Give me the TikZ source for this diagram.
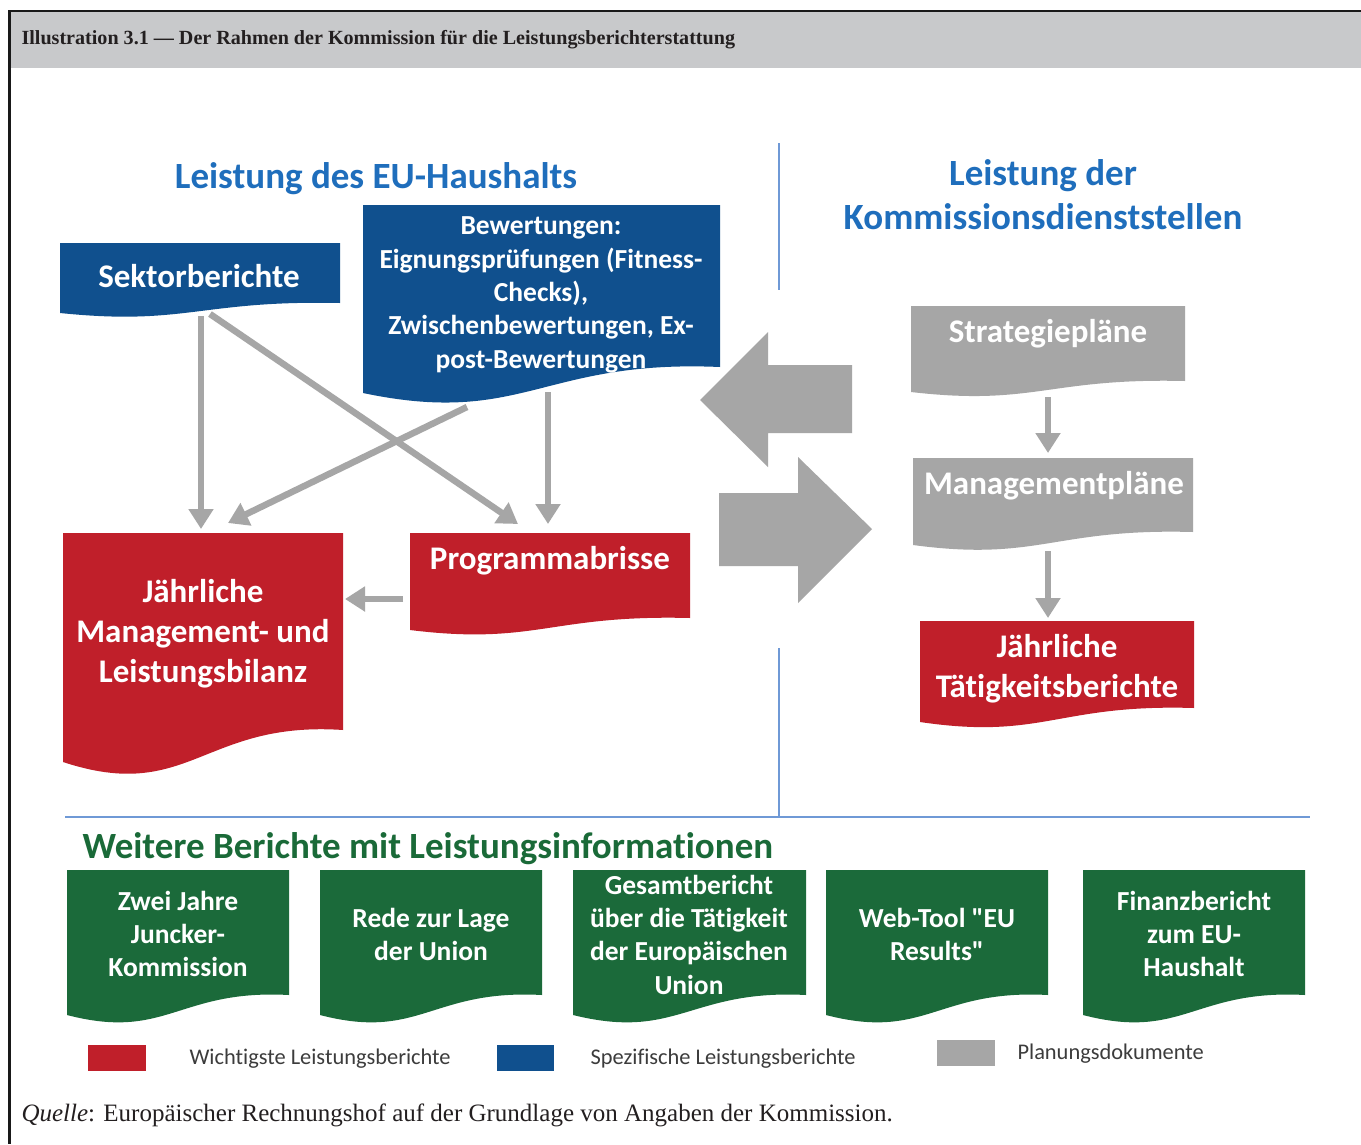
\documentclass[tikz,border=0pt]{standalone}
\usepackage{fontspec}
\setmainfont{Liberation Serif}
\newfontfamily\calfont[Ligatures=NoCommon]{Carlito}
\usetikzlibrary{arrows.meta,calc}
\definecolor{hdrgray}{RGB}{200,201,203}
\definecolor{boxblue}{RGB}{16,80,142}
\definecolor{boxred}{RGB}{192,31,42}
\definecolor{boxgray}{RGB}{166,166,166}
\definecolor{boxgreen}{RGB}{27,106,58}
\definecolor{headblue}{RGB}{31,110,188}
\definecolor{headgreen}{RGB}{26,106,56}
\definecolor{divblue}{RGB}{111,153,214}
\definecolor{legtext}{RGB}{60,60,60}
\definecolor{txtdark}{RGB}{35,31,32}
\newcommand\docbox[7]{%
  \node[inner sep=0pt, outer sep=0pt, minimum width={(#5-#3)*1pt}, minimum height={(#6-#4)*1pt}, anchor=north west] (#1) at (#3,#4) {};
  \fill[#2] (#3,#4) -- (#5,#4) -- (#5,#6) .. controls ({#3+0.5*(#5-#3)},{#6-0.3*(#7-#6)}) and ({#3+0.45*(#5-#3)},{#7+1.3*(#7-#6)}) .. (#3,#7) -- cycle;
}
\tikzset{
  conn/.style={draw=boxgray, line width=6.5pt, -{Triangle[length=20pt,width=24pt]}},
  bigtxt/.style={text=white, align=center, font=\calfont\bfseries\fontsize{33}{40}\selectfont},
  midtxt/.style={text=white, align=center, font=\calfont\bfseries\fontsize{27.5}{33.3}\selectfont},
  heading/.style={text=headblue, align=center, font=\calfont\bfseries\fontsize{37}{44}\selectfont},
  legtxt/.style={text=legtext, anchor=west, font=\calfont\fontsize{22.4}{26}\selectfont},
  divider/.style={draw=divblue, line width=1.8pt}
}
\begin{document}
\begin{tikzpicture}[x=1pt,y=-1pt]
\useasboundingbox (0,0) rectangle (1361,1144);
\fill[white] (0,0) rectangle (1361,1144);
% header
\fill[hdrgray] (10,12) rectangle (1361,68);
\draw[black!90, line width=2.5pt] (8,11) -- (1361,11);
\draw[black!90, line width=2.5pt] (9.5,10) -- (9.5,1144);
\node[anchor=west, text=txtdark, font=\bfseries\fontsize{20.1}{24}\selectfont] (title) at (18,40) {Illustration 3.1 --- Der Rahmen der Kommission für die Leistungsberichterstattung};
% dividers
\draw[divider] (779,143) -- (779,290);
\draw[divider] (779,648) -- (779,816);
\draw[divider] (65,817) -- (1310,817);
% headings
\node[heading] (h1) at (376,179) {Leistung des EU-Haushalts};
\node[heading] (h2) at (1043,195) {Leistung der\\Kommissionsdienststellen};
% boxes
\docbox{sek}{boxblue}{60}{243}{340}{303}{313}
\docbox{bew}{boxblue}{363}{205}{720}{367}{393}
\docbox{prog}{boxred}{410}{533}{690}{618}{630}
\docbox{jml}{boxred}{63}{533}{343}{730}{762}
\docbox{str}{boxgray}{911}{306}{1185}{381}{392}
\docbox{mgmt}{boxgray}{913}{458}{1193}{532}{545}
\docbox{tat}{boxred}{920}{621}{1194}{708}{722}
\docbox{g1}{boxgreen}{67}{870}{289}{995}{1015}
\docbox{g2}{boxgreen}{320}{870}{542}{995}{1015}
\docbox{g3}{boxgreen}{573}{870}{806}{995}{1015}
\docbox{g4}{boxgreen}{826}{870}{1048}{995}{1015}
\docbox{g5}{boxgreen}{1083}{870}{1305}{995}{1015}
% box texts
\node[bigtxt] (sektxt) at (199,276) {Sektorberichte};
\node[midtxt] (bewtxt) at (541,295) {Bewertungen:\\Eignungsprüfungen (Fitness-\\Checks),\\Zwischenbewertungen, Ex-\\post-Bewertungen};
\node[bigtxt] (progtxt) at (550,561) {Programmabrisse};
\node[bigtxt] (jmltxt) at (203,634) {Jährliche\\Management- und\\Leistungsbilanz};
\node[bigtxt] (strtxt) at (1048,334) {Strategiepläne};
\node[bigtxt] (mgmttxt) at (1054,486) {Managementpläne};
\node[bigtxt] (tattxt) at (1057,669) {Jährliche\\Tätigkeitsberichte};
% connectors
\draw[conn] ($(sek.south west)+(141,13)$) -- ($(jml.north west)+(138,-4)$);
\draw[conn] ($(sek.south west)+(150,11)$) -- ($(prog.north west)+(108,-9)$);
\draw[conn] ($(bew.south west)+(104,40)$) -- ($(jml.north west)+(165,-10)$);
\draw[conn] ($(bew.south west)+(185,25)$) -- ($(prog.north west)+(138,-9)$);
\draw[conn] ($(prog.north west)+(-7,66)$) -- ($(jml.north east)+(2,66)$);
\draw[conn] ($(str.south west)+(137,16)$) -- ($(mgmt.north west)+(135,-5)$);
\draw[conn] ($(mgmt.south west)+(135,19)$) -- ($(tat.north west)+(128,-3)$);
% big arrows
\fill[boxgray] (852,365) -- (768,365) -- (768,332) -- (700,400) -- (768,467) -- (768,433) -- (852,433) -- cycle;
\fill[boxgray] (719,493) -- (798,493) -- (798,457) -- (872,529) -- (798,603) -- (798,566) -- (719,566) -- cycle;
% further reports
\node[heading, text=headgreen, anchor=west] (h3) at (79,849) {Weitere Berichte mit Leistungsinformationen};
\node[midtxt] (g1txt) at (178,934) {Zwei Jahre\\Juncker-\\Kommission};
\node[midtxt] (g2txt) at (431,934.5) {Rede zur Lage\\der Union};
\node[midtxt] (g3txt) at (689,934.5) {Gesamtbericht\\über die Tätigkeit\\der Europäischen\\Union};
\node[midtxt] (g4txt) at (937,934.5) {Web-Tool "EU\\Results"};
\node[midtxt] (g5txt) at (1194,934) {Finanzbericht\\zum EU-\\Haushalt};
% legend
\fill[boxred] (88,1045) rectangle (146,1071);
\node[legtxt] (l1) at (186,1059) {Wichtigste Leistungsberichte};
\fill[boxblue] (497,1045) rectangle (554,1071);
\node[legtxt] (l2) at (587,1059) {Spezifische Leistungsberichte};
\fill[boxgray] (937,1040) rectangle (995,1066);
\node[legtxt] (l3) at (1014,1054) {Planungsdokumente};
% source
\node[anchor=west, text=txtdark, font=\fontsize{25}{29}\selectfont] (src) at (18,1115) {\textit{Quelle}: Europäischer Rechnungshof auf der Grundlage von Angaben der Kommission.};
\end{tikzpicture}
\end{document}
